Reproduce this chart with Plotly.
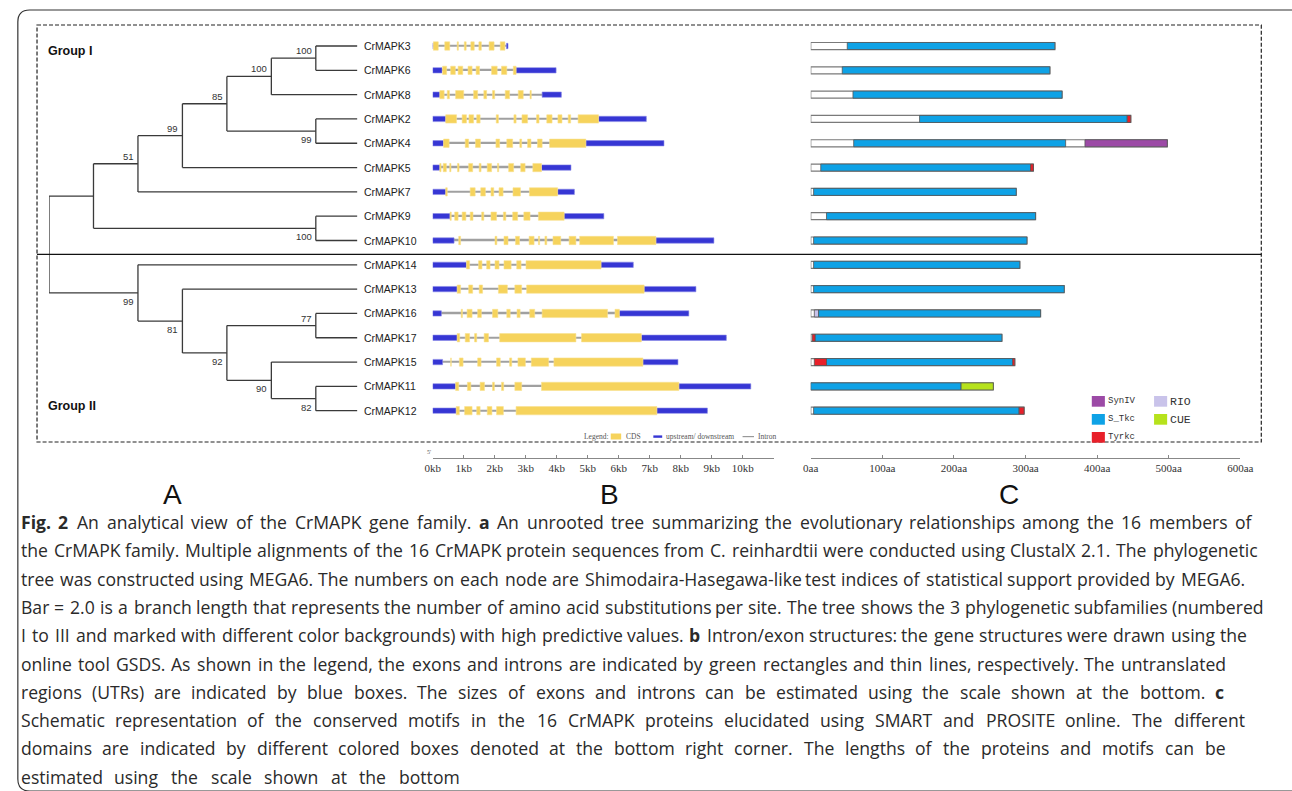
import plotly.graph_objects as go

W, H = 1292, 791

# ---------------- data ----------------
genes = ["CrMAPK3", "CrMAPK6", "CrMAPK8", "CrMAPK2", "CrMAPK4", "CrMAPK5",
         "CrMAPK7", "CrMAPK9", "CrMAPK10", "CrMAPK14", "CrMAPK13", "CrMAPK16",
         "CrMAPK17", "CrMAPK15", "CrMAPK11", "CrMAPK12"]

# internal tree nodes: (name, children, depth, support, label side)
tree_nodes = [
    ("G", ["CrMAPK3", "CrMAPK6"], 6, "100", "above"),
    ("E", ["G", "CrMAPK8"], 5, "100", "above"),
    ("F", ["CrMAPK2", "CrMAPK4"], 6, "99", "below"),
    ("D", ["E", "F"], 4, "85", "above"),
    ("C", ["D", "CrMAPK5"], 3, "99", "above"),
    ("B", ["C", "CrMAPK7"], 2, "51", "above"),
    ("N", ["CrMAPK9", "CrMAPK10"], 6, "100", "below"),
    ("A", ["B", "N"], 1, "", None),
    ("M", ["CrMAPK11", "CrMAPK12"], 6, "82", "below"),
    ("L", ["CrMAPK15", "M"], 5, "90", "below"),
    ("K", ["CrMAPK16", "CrMAPK17"], 6, "77", "above"),
    ("J", ["K", "L"], 4, "92", "below"),
    ("I", ["CrMAPK13", "J"], 3, "81", "below"),
    ("H", ["CrMAPK14", "I"], 2, "99", "below"),
    ("R", ["A", "H"], 0, "", None),
]
tip_depth = 6.93

# gene structures (kb)
utr5_end = [0.02, 0.30, 0.23, 0.42, 0.35, 0.23, 0.42, 0.56, 0.69, 1.09, 0.79,
            0.28, 0.79, 0.32, 0.74, 0.76]
utr3_span = [(2.38, 2.43), (2.69, 3.98), (3.53, 4.15), (5.35, 6.89), (4.94, 7.46),
             (3.51, 4.46), (4.03, 4.57), (4.24, 5.52), (7.20, 9.07), (5.43, 6.47),
             (6.82, 8.49), (6.02, 8.26), (6.73, 9.47), (6.78, 7.91), (7.94, 10.26),
             (7.23, 8.86)]
exons = [
    [(0.02, 0.18), (0.39, 0.55), (0.79, 0.83), (1.02, 1.08), (1.23, 1.34), (1.49, 1.57), (1.82, 1.98), (2.18, 2.33)],
    [(0.32, 0.45), (0.58, 0.73), (0.82, 0.97), (1.14, 1.27), (1.40, 1.51), (1.90, 2.08), (2.22, 2.39), (2.60, 2.69)],
    [(0.23, 0.37), (0.47, 0.54), (0.74, 1.00), (1.32, 1.45), (1.65, 1.74), (1.93, 2.00), (2.34, 2.48), (2.76, 2.92), (3.14, 3.18)],
    [(0.42, 0.77), (0.95, 1.09), (1.17, 1.32), (1.42, 1.53), (2.05, 2.12), (2.62, 2.69), (2.88, 3.06), (3.35, 3.43), (3.68, 3.85), (4.04, 4.17), (4.37, 4.45), (4.69, 5.35)],
    [(0.35, 0.53), (1.05, 1.16), (1.38, 1.54), (2.04, 2.16), (2.39, 2.58), (2.81, 2.87), (3.06, 3.17), (3.38, 3.53), (3.77, 4.94)],
    [(0.23, 0.27), (0.34, 0.44), (0.55, 0.59), (0.80, 0.85), (1.16, 1.29), (1.50, 1.56), (1.76, 1.90), (2.09, 2.13), (2.45, 2.61), (2.84, 2.98), (3.23, 3.51)],
    [(0.42, 0.47), (1.21, 1.37), (1.55, 1.70), (1.88, 1.97), (2.14, 2.27), (2.59, 2.83), (3.12, 4.03)],
    [(0.56, 0.60), (0.71, 0.82), (0.95, 1.07), (1.21, 1.30), (1.58, 1.65), (1.88, 2.06), (2.28, 2.36), (2.58, 2.74), (2.94, 3.14), (3.41, 4.24)],
    [(0.84, 0.90), (2.01, 2.07), (2.30, 2.43), (2.67, 2.80), (3.11, 3.27), (3.41, 3.45), (3.62, 3.68), (3.88, 4.13), (4.40, 4.62), (4.74, 5.83), (5.96, 7.20)],
    [(1.09, 1.19), (1.48, 1.59), (1.74, 1.85), (2.01, 2.14), (2.30, 2.53), (2.71, 2.85), (3.01, 5.43)],
    [(0.79, 0.90), (1.16, 1.29), (1.50, 1.61), (2.12, 2.41), (2.65, 2.87), (3.03, 6.82)],
    [(0.92, 0.96), (1.11, 1.27), (1.45, 1.57), (1.93, 2.10), (2.39, 2.50), (2.72, 2.82), (3.13, 3.29), (3.53, 5.64), (5.88, 6.02)],
    [(0.79, 0.87), (1.05, 1.19), (1.35, 1.42), (1.66, 1.80), (2.16, 4.62), (4.80, 6.73)],
    [(0.58, 0.60), (0.86, 0.98), (1.45, 1.56), (2.06, 2.18), (2.48, 2.55), (2.75, 2.99), (3.18, 3.74), (3.91, 6.78)],
    [(0.74, 0.84), (1.12, 1.23), (1.53, 1.67), (1.93, 1.99), (2.22, 2.29), (2.65, 2.87), (3.51, 7.94)],
    [(0.76, 0.86), (1.03, 1.27), (1.42, 1.53), (1.76, 1.91), (2.06, 2.28), (2.69, 7.23)],
]

# proteins (aa)
protein_len = [341, 334, 351, 447, 498, 311, 287, 314, 302, 292, 354, 321, 267, 285, 255, 298]
domains = [
    [("S_Tkc", 51, 341)],
    [("S_Tkc", 44, 334)],
    [("S_Tkc", 59, 351)],
    [("S_Tkc", 152, 442), ("Tyrkc", 442, 447)],
    [("S_Tkc", 60, 356), ("SynIV", 383, 498)],
    [("S_Tkc", 14, 307), ("Tyrkc", 307, 311)],
    [("S_Tkc", 4, 287)],
    [("S_Tkc", 22, 314)],
    [("S_Tkc", 4, 302)],
    [("S_Tkc", 4, 292)],
    [("S_Tkc", 4, 354)],
    [("RIO", 5, 11), ("S_Tkc", 11, 321)],
    [("Tyrkc", 2, 6), ("S_Tkc", 6, 267)],
    [("Tyrkc", 5, 22), ("S_Tkc", 22, 282), ("Tyrkc", 282, 285)],
    [("S_Tkc", 0, 210), ("CUE", 210, 255)],
    [("S_Tkc", 4, 291), ("Tyrkc", 291, 298)],
]
domain_types = ["SynIV", "RIO", "S_Tkc", "CUE", "Tyrkc"]
domain_colors = {"SynIV": "#9c4aa6", "RIO": "#c9c3ea", "S_Tkc": "#0ea2e6",
                 "CUE": "#b6e21c", "Tyrkc": "#e8202a"}

kb_ticks = list(range(0, 12))
kb_labels = [f"{k}kb" for k in range(0, 11)] + [""]
aa_ticks = [0, 100, 200, 300, 400, 500, 600]
aa_labels = [f"{v}aa" for v in aa_ticks]

caption_lines = [
    "<b>Fig.</b> <b>2</b> An analytical view of the CrMAPK gene family. <b>a</b> An unrooted tree summarizing the evolutionary relationships among the 16 members of",
    "the CrMAPK family. Multiple alignments of the 16 CrMAPK protein sequences from C. reinhardtii were conducted using ClustalX 2.1. The phylogenetic",
    "tree was constructed using MEGA6. The numbers on each node are Shimodaira-Hasegawa-like test indices of statistical support provided by MEGA6.",
    "Bar = 2.0 is a branch length that represents the number of amino acid substitutions per site. The tree shows the 3 phylogenetic subfamilies (numbered",
    "I to III and marked with different color backgrounds) with high predictive values. <b>b</b> Intron/exon structures: the gene structures were drawn using the",
    "online tool GSDS. As shown in the legend, the exons and introns are indicated by green rectangles and thin lines, respectively. The untranslated",
    "regions (UTRs) are indicated by blue boxes. The sizes of exons and introns can be estimated using the scale shown at the bottom. <b>c</b>",
    "Schematic representation of the conserved motifs in the 16 CrMAPK proteins elucidated using SMART and PROSITE online. The different",
    "domains are indicated by different colored boxes denoted at the bottom right corner. The lengths of the proteins and motifs can be",
    "estimated using the scale shown at the bottom",
]
caption_right = [1263, 1267, 1255, 1274, 1258, 1235, 1235, 1255, 1236, 457]

# approximate Open Sans advance widths (units per 2048 em)
OS_W = {" ": 532, "!": 547, "(": 606, ")": 606, ",": 502, "-": 659, ".": 545, "/": 752,
        ":": 545, ";": 545, "=": 1147, "_": 918,
        "A": 1298, "B": 1319, "C": 1255, "D": 1483, "E": 1122, "F": 1030, "G": 1460,
        "H": 1497, "I": 608, "J": 586, "K": 1257, "L": 1046, "M": 1841, "N": 1560,
        "O": 1600, "P": 1212, "Q": 1600, "R": 1241, "S": 1110, "T": 1124, "U": 1466,
        "V": 1206, "W": 1874, "X": 1214, "Y": 1157, "Z": 1149,
        "a": 1139, "b": 1255, "c": 975, "d": 1255, "e": 1149, "f": 694, "g": 1122,
        "h": 1257, "i": 518, "j": 518, "k": 1075, "l": 518, "m": 1905, "n": 1257,
        "o": 1237, "p": 1255, "q": 1255, "r": 836, "s": 977, "t": 705, "u": 1257,
        "v": 1026, "w": 1593, "x": 1073, "y": 1028, "z": 977}
CAP_SIZE = 17.6


def text_width(s, size, bold=False):
    w = sum(OS_W.get(c, 1147) for c in s) / 2048.0 * size
    return w * (1.07 if bold else 1.0)


# ---------------- helpers ----------------
def px(x):
    return x / W


def py(y):
    return 1 - y / H


rows = list(range(len(genes)))
fig = go.Figure()

# ---------------- tree ----------------
pos = {g: (tip_depth, i) for i, g in enumerate(genes)}
tx, ty = [], []
boot = []
for name, kids, depth, sup, side in tree_nodes:
    ys = [pos[k][1] for k in kids]
    tx += [depth, depth, None]
    ty += [min(ys), max(ys), None]
    for k in kids:
        tx += [depth, pos[k][0], None]
        ty += [pos[k][1], pos[k][1], None]
    pos[name] = (depth, sum(ys) / len(ys))
    if sup:
        boot.append((depth, pos[name][1], sup, side))

fig.add_trace(go.Scatter(x=tx, y=ty, mode="lines", xaxis="x", yaxis="y",
                         line=dict(color="#3a3a3a", width=1.3), hoverinfo="skip",
                         showlegend=False))

ann = []
for d, yv, sup, side in boot:
    ann.append(dict(x=d, y=yv, xref="x", yref="y", text=sup, showarrow=False,
                    xanchor="right", yanchor="bottom" if side == "above" else "top",
                    xshift=-2, yshift=0 if side == "above" else -1,
                    font=dict(family="Liberation Sans, Arial", size=9.5, color="#333")))
for i, g in enumerate(genes):
    ann.append(dict(x=tip_depth, y=i, xref="x", yref="y", text=g, showarrow=False,
                    xanchor="left", xshift=5,
                    font=dict(family="Liberation Sans, Arial", size=10.5, color="#222")))

# ---------------- gene structures ----------------
gene_end = [u[1] for u in utr3_span]
fig.add_trace(go.Bar(orientation="h", x=gene_end, base=[0] * len(genes), y=rows,
                     width=0.06, marker=dict(color="#a0a0a0", line=dict(width=0)),
                     xaxis="x2", yaxis="y", hoverinfo="skip", showlegend=False))
ub, ux, uy = [], [], []
for i in rows:
    ub.append(0); ux.append(utr5_end[i]); uy.append(i)
    ub.append(utr3_span[i][0]); ux.append(utr3_span[i][1] - utr3_span[i][0]); uy.append(i)
fig.add_trace(go.Bar(orientation="h", x=ux, base=ub, y=uy, width=0.22,
                     marker=dict(color="#3636d4", line=dict(color="#8a8ae8", width=0.6)),
                     xaxis="x2", yaxis="y", hoverinfo="skip", showlegend=False))
eb, ex, ey = [], [], []
for i in rows:
    for s, e in exons[i]:
        eb.append(s); ex.append(e - s); ey.append(i)
fig.add_trace(go.Bar(orientation="h", x=ex, base=eb, y=ey, width=0.34,
                     marker=dict(color="#f6d35c", line=dict(color="#f8e08e", width=0.6)),
                     xaxis="x2", yaxis="y", hoverinfo="skip", showlegend=False))

# ---------------- proteins ----------------
fig.add_trace(go.Bar(orientation="h", x=protein_len, base=[0] * len(genes), y=rows,
                     width=0.29, marker=dict(color="white", line=dict(color="#7a7a7a", width=1.2)),
                     xaxis="x3", yaxis="y", hoverinfo="skip", showlegend=False))
for t in domain_types:
    db, dx, dy = [], [], []
    for i in rows:
        for nm, s, e in domains[i]:
            if nm == t:
                db.append(s); dx.append(e - s); dy.append(i)
    if dx:
        fig.add_trace(go.Bar(orientation="h", x=dx, base=db, y=dy, width=0.29,
                             marker=dict(color=domain_colors[t], line=dict(color="#555", width=0.8)),
                             xaxis="x3", yaxis="y", hoverinfo="skip", showlegend=False))

# ---------------- shapes / decoration ----------------
shapes = []
x0, y0, x1, y1, r = 10, 10, 1320, 791, 12
path = (f"M {px(x0)},{py(y0 + r)} Q {px(x0)},{py(y0)} {px(x0 + r)},{py(y0)} "
        f"L {px(x1)},{py(y0)} L {px(x1)},{py(y1)} L {px(x0 + r)},{py(y1)} "
        f"Q {px(x0)},{py(y1)} {px(x0)},{py(y1 - r)} Z")
shapes.append(dict(type="path", path=path, xref="paper", yref="paper",
                   line=dict(color="#333", width=1.2)))
shapes.append(dict(type="rect", xref="paper", yref="paper", x0=px(29.5), x1=px(1274),
                   y0=py(25), y1=py(442), line=dict(color="#222", width=1.2, dash="4px,2px")))
shapes.append(dict(type="line", xref="paper", yref="paper", x0=px(29.5), x1=px(1274),
                   y0=py(254.3), y1=py(254.3), line=dict(color="#111", width=1.2)))

# legend for gene structure
legend_font = dict(family="Liberation Serif, serif", size=7.5, color="#555")
ann.append(dict(x=px(583), y=py(436.5), xref="paper", yref="paper", text="Legend:",
                showarrow=False, xanchor="left", font=legend_font))
shapes.append(dict(type="rect", xref="paper", yref="paper", x0=px(612.7), x1=px(623.3),
                   y0=py(439.5), y1=py(433.5), fillcolor="#f6d35c", line=dict(width=0)))
ann.append(dict(x=px(626), y=py(436.5), xref="paper", yref="paper", text="CDS",
                showarrow=False, xanchor="left", font=legend_font))
shapes.append(dict(type="rect", xref="paper", yref="paper", x0=px(656), x1=px(665),
                   y0=py(437.8), y1=py(435.4), fillcolor="#3636d4", line=dict(width=0)))
ann.append(dict(x=px(666.5), y=py(436.5), xref="paper", yref="paper",
                text="upstream/ downstream", showarrow=False, xanchor="left", font=legend_font))
shapes.append(dict(type="line", xref="paper", yref="paper", x0=px(746.7), x1=px(758.3),
                   y0=py(436.6), y1=py(436.6), line=dict(color="#999", width=1.2)))
ann.append(dict(x=px(760), y=py(436.5), xref="paper", yref="paper", text="Intron",
                showarrow=False, xanchor="left", font=legend_font))
ann.append(dict(x=px(424), y=py(452), xref="paper", yref="paper", text="5'",
                showarrow=False, xanchor="left", font=dict(family="Liberation Serif, serif", size=6, color="#555")))

# legend for protein domains
leg_items = [("SynIV", 1101.7, 396, 9), ("S_Tkc", 1101.7, 414, 9), ("Tyrkc", 1101.7, 432, 9),
             ("RIO", 1165, 396, 11.5), ("CUE", 1165, 414, 11.5)]
for nm, lx, ly, fs in leg_items:
    shapes.append(dict(type="rect", xref="paper", yref="paper", x0=px(lx), x1=px(lx + 13.3),
                       y0=py(ly + 10.7), y1=py(ly), fillcolor=domain_colors[nm], line=dict(width=0)))
    ann.append(dict(x=px(lx + 14.5), y=py(ly + 5.3), xref="paper", yref="paper", text=nm,
                    showarrow=False, xanchor="left",
                    font=dict(family="Liberation Mono, DejaVu Sans Mono, monospace", size=fs, color="#333")))

# group labels
ann.append(dict(x=px(39), y=py(42), xref="paper", yref="paper", text="<b>Group I</b>",
                showarrow=False, xanchor="left", font=dict(family="Liberation Sans, Arial", size=12.5, color="#111")))
ann.append(dict(x=px(39), y=py(406), xref="paper", yref="paper", text="<b>Group II</b>",
                showarrow=False, xanchor="left", font=dict(family="Liberation Sans, Arial", size=12.5, color="#111")))

# panel letters
for lt, lx in [("A", 167), ("B", 611), ("C", 1018)]:
    ann.append(dict(x=px(lx), y=py(494), xref="paper", yref="paper", text=lt, showarrow=False,
                    xanchor="center", font=dict(family="Liberation Sans, Arial", size=28, color="#111")))

# caption, justified word by word
cap_left = 12
for k, line in enumerate(caption_lines):
    words = line.split(" ")
    plain = [w.replace("<b>", "").replace("</b>", "") for w in words]
    bold = [w.startswith("<b>") for w in words]
    widths = [text_width(p, CAP_SIZE, b) for p, b in zip(plain, bold)]
    space = text_width(" ", CAP_SIZE)
    gap = (caption_right[k] - cap_left - sum(widths)) / max(len(words) - 1, 1)
    gap = max(gap, space)
    xcur = cap_left
    for w, wd in zip(words, widths):
        ann.append(dict(x=px(xcur), y=py(522 + 28.3 * k), xref="paper", yref="paper",
                        text=w, showarrow=False, xanchor="left", yanchor="middle",
                        borderpad=0,
                        font=dict(family="Open Sans, Noto Sans", size=CAP_SIZE, color="#2a2a2a")))
        xcur += wd + gap

axis_font = dict(family="Liberation Serif, DejaVu Serif, serif", size=11, color="#333")
fig.update_layout(
    width=W, height=H, margin=dict(l=0, r=0, t=0, b=0),
    paper_bgcolor="white", plot_bgcolor="rgba(0,0,0,0)",
    barmode="overlay", showlegend=False,
    xaxis=dict(domain=[px(41.7), px(41.7 + 7 * 45.2)], range=[0, 7], visible=False,
               fixedrange=True),
    xaxis2=dict(domain=[px(431.7), px(778.4)], range=[0, 11], anchor="free",
                position=py(458), showline=True, linecolor="#888", linewidth=1,
                ticks="inside", ticklen=3, tickcolor="#888", tickvals=kb_ticks,
                ticktext=kb_labels, tickfont=axis_font, showgrid=False, zeroline=False,
                fixedrange=True),
    xaxis3=dict(domain=[px(816), px(1252.7)], range=[0, 600], anchor="free",
                position=py(458), showline=True, linecolor="#888", linewidth=1,
                ticks="inside", ticklen=3, tickcolor="#888", tickvals=aa_ticks,
                ticktext=aa_labels, tickfont=axis_font, showgrid=False, zeroline=False,
                fixedrange=True),
    yaxis=dict(domain=[py(422.85), py(33.85)], range=[15.5, -0.5], visible=False,
               fixedrange=True),
    shapes=shapes, annotations=ann,
)

fig.write_html("out.html")
